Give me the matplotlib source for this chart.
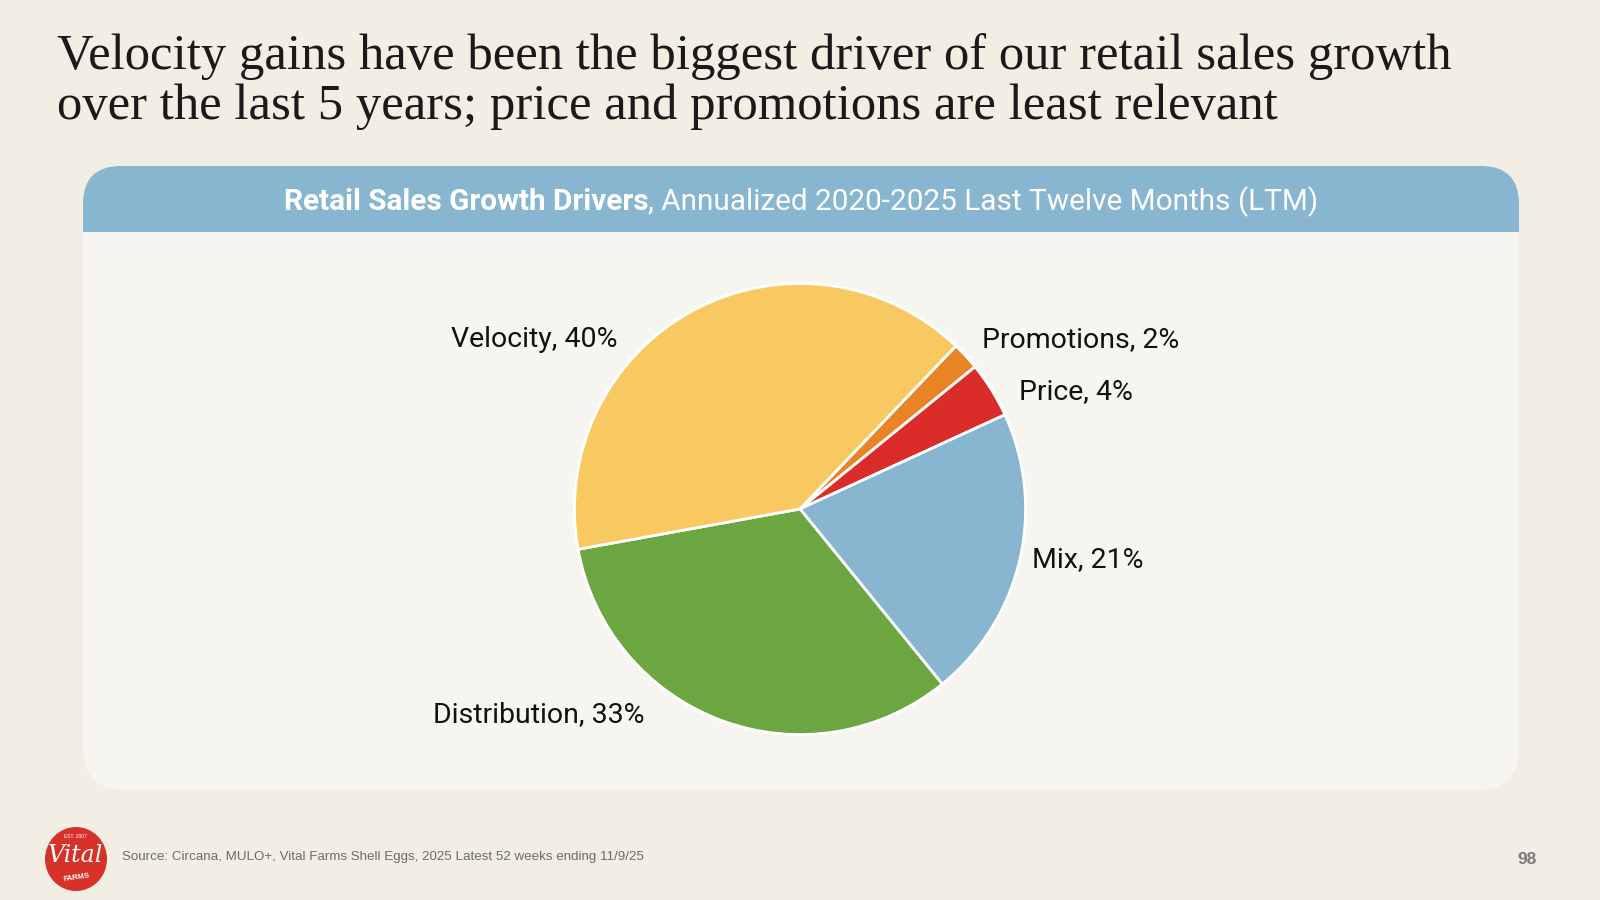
import matplotlib
matplotlib.use("Agg")
import matplotlib.pyplot as plt
from matplotlib.patches import FancyBboxPatch, Rectangle, Ellipse

# data
drivers = ["Promotions", "Price", "Mix", "Distribution", "Velocity"]
shares = [2, 4, 21, 33, 40]
colors = ["#E88425", "#DA2D2A", "#88B5CF", "#6BA641", "#F8C961"]

title = ("Velocity gains have been the biggest driver of our retail sales growth\n"
         "over the last 5 years; price and promotions are least relevant")
header_bold = "Retail Sales Growth Drivers"
header_rest = ", Annualized 2020-2025 Last Twelve Months (LTM)"
source = "Source: Circana, MULO+, Vital Farms Shell Eggs, 2025 Latest 52 weeks ending 11/9/25"
page = "98"

BG = "#F2EEE4"
PANEL = "#F7F5F0"
BLUE = "#88B5CF"

fig = plt.figure(figsize=(16, 9), dpi=100, facecolor=BG)

# background layer in pixel coordinates
bg = fig.add_axes([0, 0, 1, 1])
bg.set_xlim(0, 1600)
bg.set_ylim(900, 0)
bg.axis("off")

bg.add_patch(FancyBboxPatch((83, 166), 1436, 624, boxstyle="round,pad=0,rounding_size=42",
                            fc=PANEL, ec="none"))
bg.add_patch(FancyBboxPatch((83, 166), 1436, 120, boxstyle="round,pad=0,rounding_size=38",
                            fc=BLUE, ec="none"))
bg.add_patch(Rectangle((83, 232), 1436, 80, fc=PANEL, ec="none"))

bg.text(57, 119, title, fontsize=36.5, family="Liberation Serif", color="#1A1A1A",
        va="baseline", ha="left", linespacing=1.1)

# header: bold part + regular part, centred together
t1 = bg.text(0, 202, header_bold, fontsize=21.4, family="Roboto", fontweight="bold",
             color="white", va="center", ha="left")
t2 = bg.text(0, 202, header_rest, fontsize=21.4, family="Roboto", color="white",
             va="center", ha="left")
fig.canvas.draw()
r = fig.canvas.get_renderer()
w1 = t1.get_window_extent(r).width
w2 = t2.get_window_extent(r).width
x0 = 801 - (w1 + w2) / 2
t1.set_x(x0)
t2.set_x(x0 + w1)

bg.text(122, 857, source, fontsize=9.65, family="Liberation Sans", color="#6B6B6B",
        va="center", ha="left")
bg.text(1527, 859, page, fontsize=12.5, family="Liberation Sans", fontweight="bold",
        color="#7A7A7A", va="center", ha="center")

# logo
bg.add_patch(Ellipse((76, 859), 62, 64, fc="#D7322A", ec="none"))
bg.text(75, 855, "Vital", fontsize=17, family="DejaVu Serif", style="italic",
        color="white", ha="center", va="center")
bg.text(77, 878, "FARMS", fontsize=5.5, family="Liberation Sans", fontweight="bold",
        color="white", ha="center", va="center", rotation=8)
bg.text(75, 836, "EST. 2007", fontsize=3.5, family="Liberation Sans",
        color="white", ha="center", va="center")

# pie
ax = fig.add_axes([500 / 1600, 91 / 900, 600 / 1600, 600 / 900])
ax.pie(shares, colors=colors, startangle=46.3, counterclock=False, radius=1.0,
       wedgeprops=dict(edgecolor="white", linewidth=2))
ax.set_xlim(-1.33, 1.33)
ax.set_ylim(-1.33, 1.33)
ax.axis("off")

labels = [f"{d}, {s}%" for d, s in zip(drivers, shares)]
label_pos = [(0.805, 0.75, "left"), (0.97, 0.52, "left"), (1.03, -0.225, "left"),
             (-0.69, -0.91, "right"), (-0.81, 0.75, "right")]
for lab, (lx, ly, ha) in zip(labels, label_pos):
    ax.text(lx, ly, lab, fontsize=20.5, family="Roboto", color="#111111",
            ha=ha, va="center", clip_on=False)

fig.savefig("out.png", dpi=100, facecolor=BG)
